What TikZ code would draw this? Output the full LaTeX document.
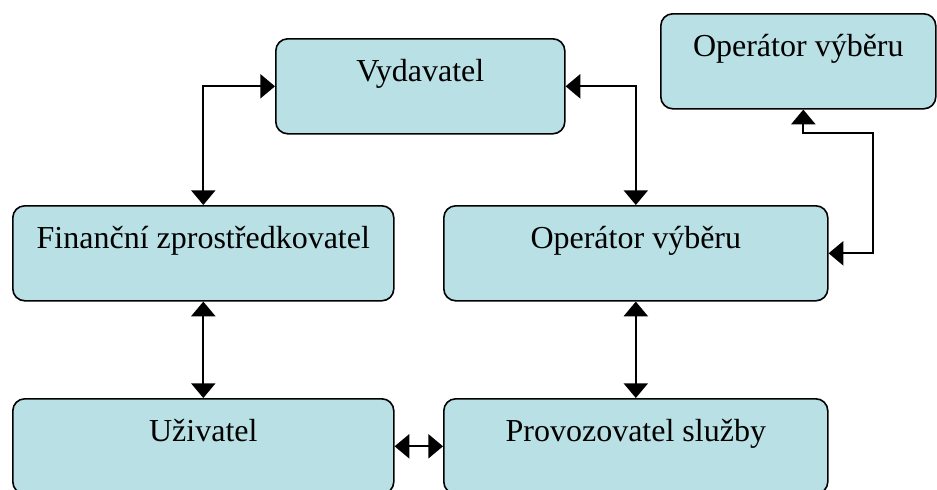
\documentclass[tikz,border=0pt]{standalone}
\usepackage{fontspec}
\setmainfont{Liberation Serif}
\usetikzlibrary{arrows.meta}
\definecolor{boxblue}{RGB}{185,224,228}

\begin{document}
\begin{tikzpicture}[x=0.75pt, y=-0.75pt,
  box/.style={draw, line width=1.2pt, fill=boxblue, rounded corners=9pt,
    anchor=north west, inner ysep=0pt, minimum height=71.25pt,
    text height=32.25pt, text depth=39pt, font=\fontsize{24}{28}\selectfont},
  link/.style={line width=1.6pt,
    {Triangle[length=11pt,width=18pt]}-{Triangle[length=11pt,width=18pt]}}]

\clip (0,0) rectangle (937,489);

\node[box, minimum width=216.75pt] (vyd) at (275,38) {Vydavatel};
\node[box, minimum width=206.25pt] (opv2) at (660,13) {Operátor výběru};

\node[box, minimum width=285.75pt] (fin) at (12,205) {Finanční zprostředkovatel};
\node[box, minimum width=288pt] (opv) at (443,205) {Operátor výběru};

\node[box, minimum width=285.75pt] (uziv) at (12,398) {Uživatel};
\node[box, minimum width=288pt] (prov) at (443,398) {Provozovatel služby};

\draw[link] (fin.north) |- (vyd.west);
\draw[link] (vyd.east) -| (opv.north);

\coordinate (bend) at (873,133);
\draw[link] ([xshift=3.75pt]opv2.south) |- (bend) |- (opv.east);

\draw[link] (fin.south) -- (uziv.north);
\draw[link] (opv.south) -- (prov.north);
\draw[link] (uziv.east) -- (prov.west);

\end{tikzpicture}
\end{document}
